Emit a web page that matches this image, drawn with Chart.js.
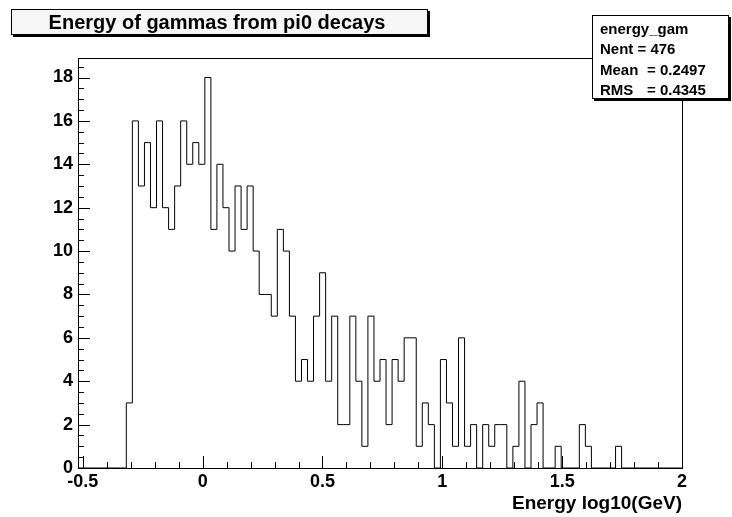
<!DOCTYPE html>
<html>
<head>
<meta charset="utf-8">
<script src="https://cdn.jsdelivr.net/npm/chart.js@4"></script>
<style>html,body{margin:0;background:#fff}canvas{display:block}</style>
</head>
<body>
<canvas id="c" width="732" height="517"></canvas>
<script>
// histogram definition: 100 bins between xMin and xMax
const xMin = -0.52, xMax = 2.0;
const counts = [
  0, 0, 0, 0, 0, 0, 0, 0,
  3, 16, 13, 15, 12, 16, 12, 11, 13, 16, 14, 15, 14, 18, 11, 14, 12, 10, 13,
  11, 13, 10, 8, 8, 7, 11, 10, 7, 4, 5, 4, 7, 9, 4, 7, 2, 2, 7,
  4, 1, 7, 4, 5, 2, 5, 4, 6, 6, 1, 3, 2, 0, 5, 3, 1, 6, 1, 2,
  0, 2, 1, 2, 2, 0, 1, 4, 0, 2, 3, 0, 0, 1, 0, 0, 0, 2, 1, 0, 0, 0, 0, 1,
  0, 0, 0, 0, 0, 0, 0, 0, 0, 0
];
const xTicks = [-0.5, 0, 0.5, 1, 1.5, 2];
const yTicks = [0, 2, 4, 6, 8, 10, 12, 14, 16, 18];
const yMax = 18.9;

const histName = 'energy_gam';
const statNames = ['Nent', 'Mean', 'RMS'];
const statValues = ['476', '0.2497', '0.4345'];
const title = 'Energy of gammas from pi0 decays';
const xTitle = 'Energy log10(GeV)';

const FAMILY = '"Liberation Sans", Arial, sans-serif';

const binW = (xMax - xMin) / counts.length;
const points = counts.map((c, i) => ({ x: xMin + i * binW, y: c }));
points.push({ x: xMax, y: counts[counts.length - 1] });

function pave(ctx, x, y, w, h, fill) {
  ctx.fillStyle = '#000';
  ctx.fillRect(x + 2, y + 2, w + 1, h + 1);
  ctx.fillStyle = fill;
  ctx.fillRect(x, y, w, h);
  ctx.strokeStyle = '#000';
  ctx.lineWidth = 1;
  ctx.strokeRect(x + 0.5, y + 0.5, w, h);
}

const rootDecor = {
  id: 'rootDecor',
  afterDraw(chart) {
    const { ctx, chartArea: a, scales: { x, y } } = chart;
    ctx.save();
    ctx.strokeStyle = '#000';
    ctx.lineWidth = 1;

    // frame
    const L = Math.round(a.left), T = Math.round(a.top);
    const R = Math.round(a.right), B = Math.round(a.bottom);
    ctx.strokeRect(L + 0.5, T + 0.5, R - L, B - T);

    // ticks pointing inside the frame
    ctx.beginPath();
    for (let i = 0; i <= 25; i++) {
      const px = Math.round(x.getPixelForValue(-0.5 + i * 0.1)) + 0.5;
      const len = i % 5 === 0 ? 12 : 6;
      ctx.moveTo(px, B);
      ctx.lineTo(px, B - len);
    }
    for (let i = 0; i * 0.5 <= yMax; i++) {
      const py = Math.round(y.getPixelForValue(i * 0.5)) + 0.5;
      const len = i % 4 === 0 ? 12 : 6;
      ctx.moveTo(L, py);
      ctx.lineTo(L + len, py);
    }
    ctx.stroke();

    // title pave
    pave(ctx, 11, 9, 416, 25, '#f6f6f6');
    ctx.fillStyle = '#000';
    ctx.font = 'bold 20px ' + FAMILY;
    ctx.textAlign = 'center';
    ctx.textBaseline = 'alphabetic';
    ctx.fillText(title, 217, 29);

    // stats pave
    pave(ctx, 592, 15, 136, 83, '#fff');
    ctx.fillStyle = '#000';
    ctx.font = 'bold 15px ' + FAMILY;
    ctx.textAlign = 'left';
    ctx.fillText(histName, 600, 34);
    ctx.fillText(statNames[0] + ' = ' + statValues[0], 600, 54);
    ctx.fillText(statNames[1], 600, 75);
    ctx.fillText('= ' + statValues[1], 647, 75);
    ctx.fillText(statNames[2], 600, 95);
    ctx.fillText('= ' + statValues[2], 647, 95);

    // x axis title
    ctx.font = 'bold 19px ' + FAMILY;
    ctx.textAlign = 'right';
    ctx.fillText(xTitle, R, 509);
    ctx.restore();
  }
};

const tickFont = { family: FAMILY, size: 18, weight: 'bold' };

new Chart(document.getElementById('c'), {
  type: 'line',
  data: {
    datasets: [{
      data: points,
      stepped: 'before',
      borderColor: '#000',
      borderWidth: 1,
      pointRadius: 0,
      fill: false
    }]
  },
  options: {
    responsive: false,
    animation: false,
    devicePixelRatio: 1,
    events: [],
    layout: { padding: { top: 58, right: 50, left: 0, bottom: 0 } },
    plugins: { legend: { display: false }, tooltip: { enabled: false } },
    scales: {
      x: {
        type: 'linear',
        min: xMin,
        max: xMax,
        afterBuildTicks: s => { s.ticks = xTicks.map(v => ({ value: v })); },
        afterFit: s => { s.height = 49; },
        grid: { display: false, drawTicks: false },
        border: { display: false },
        ticks: {
          padding: 3, autoSkip: false, maxRotation: 0,
          color: '#000', font: tickFont,
          callback: v => String(v)
        }
      },
      y: {
        min: 0,
        max: yMax,
        afterBuildTicks: s => { s.ticks = yTicks.map(v => ({ value: v })); },
        afterFit: s => { s.width = 78; },
        grid: { display: false, drawTicks: false },
        border: { display: false },
        ticks: {
          padding: 5, autoSkip: false,
          color: '#000', font: tickFont,
          callback: v => String(v)
        }
      }
    }
  },
  plugins: [rootDecor]
});
</script>
</body>
</html>
